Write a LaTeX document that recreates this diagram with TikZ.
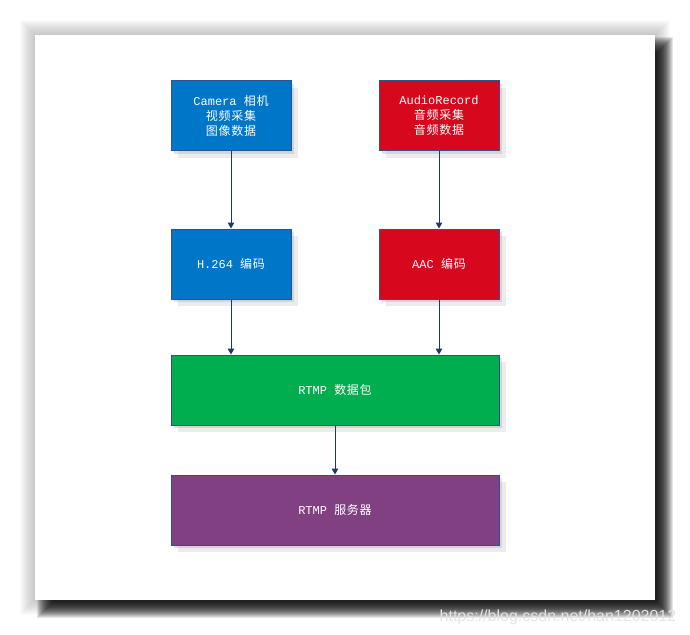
\documentclass[tikz,border=0pt]{standalone}
\usepackage{fontspec}
\usepackage{tikz}
\usetikzlibrary{arrows.meta,shadows}
\setmainfont{Liberation Mono}
\newfontfamily\cjk[LetterSpace=6]{Noto Sans CJK SC}
\newfontfamily\wmfont{Liberation Sans}
\definecolor{cblue}{RGB}{0,118,200}
\definecolor{cred}{RGB}{215,8,30}
\definecolor{cgreen}{RGB}{0,174,80}
\definecolor{cpurple}{RGB}{128,64,130}
\definecolor{cline}{RGB}{47,82,143}
\definecolor{carrow}{RGB}{32,56,100}
\begin{document}
\begin{tikzpicture}[x=0.75pt,y=-0.75pt]
      \useasboundingbox(0,0) rectangle (690,635);
      \tikzset{B/.style = {shape=rectangle, draw=cline, line width=0.75pt, text=white, align=center,
          inner sep=0pt, minimum width=90pt, minimum height=52.5pt,
          font=\fontsize{9}{11.25}\selectfont,
          drop shadow={opacity=0.15, shadow xshift=5pt, shadow yshift=-5pt},
          drop shadow={opacity=0.22, shadow xshift=2.5pt, shadow yshift=-2.5pt}}}
      \tikzset{W/.style = {B, minimum width=246pt}}
      \tikzset{E/.style = {draw=carrow, line width=0.75pt, -{Triangle[length=4.5pt,width=5pt]}}}
      % page with its shadow
      \foreach \r in {1,...,15}
        \fill[black,opacity=0.014] (35-\r,35-\r) rectangle (655+\r,600+\r);
      \foreach \r in {-8,...,8}
        \fill[black,opacity=0.1] (45-\r,45-\r) rectangle (665+\r,610+\r);
      \fill[white] (35,35) rectangle (655,600);
      % boxes
      \node[B,fill=cblue](cam) at (231,116) {Camera {\cjk 相机}\\{\cjk 视频采集}\\{\cjk 图像数据}};
      \node[B,fill=cred](aud) at (439,116) {AudioRecord\\{\cjk 音频采集}\\{\cjk 音频数据}};
      \node[B,fill=cblue](h264) at (231,264) {H.264 {\cjk 编码}};
      \node[B,fill=cred](aac) at (439,264) {AAC {\cjk 编码}};
      \node[W,fill=cgreen](pkt) at (335,390) {RTMP {\cjk 数据包}};
      \node[W,fill=cpurple](srv) at (335,510) {RTMP {\cjk 服务器}};
      \draw[E](cam) to (h264);
      \draw[E](aud) to (aac);
      \draw[E](h264.south) to (h264.south |- pkt.north);
      \draw[E](aac.south) to (aac.south |- pkt.north);
      \draw[E](pkt) to (srv);
      % watermark
      \node[anchor=east,text={rgb,255:red,228;green,228;blue,228},font=\wmfont\fontsize{12}{14}\selectfont](wm) at (681,617) {https://blog.csdn.net/han1202012};
    \end{tikzpicture}
\end{document}
